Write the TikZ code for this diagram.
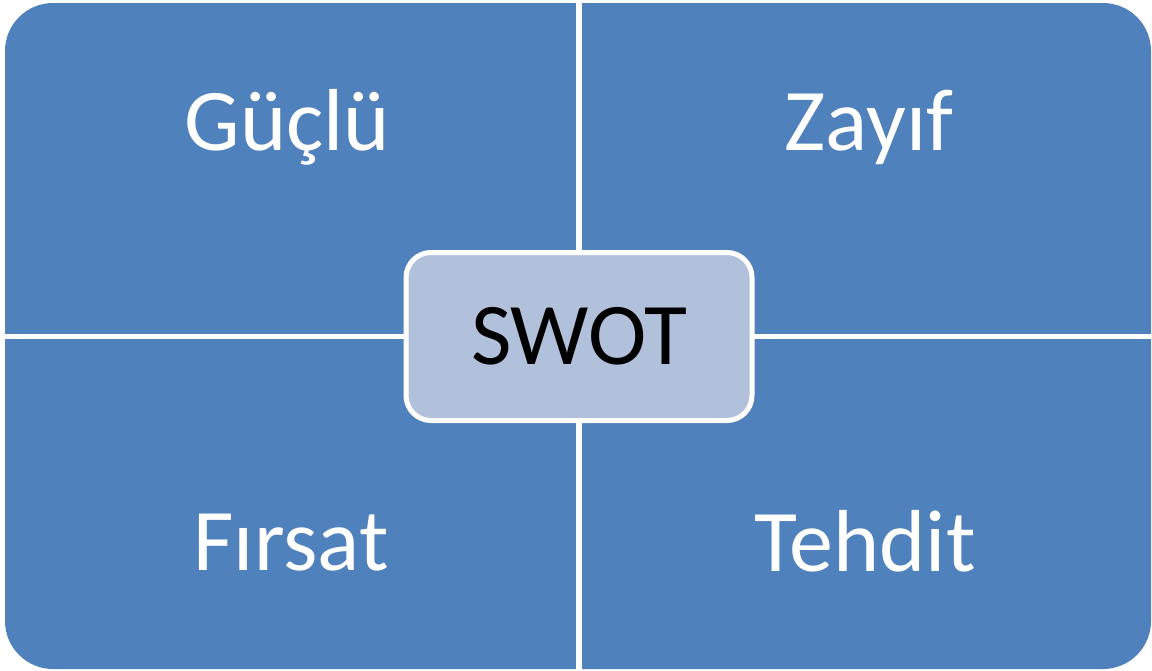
\documentclass[tikz,border=0pt]{standalone}
\usepackage{fontspec}
\setmainfont{Carlito}
\definecolor{quadblue}{HTML}{4F81BD}
\definecolor{swotfill}{HTML}{B2C1DB}

\begin{document}
\begin{tikzpicture}[x=1pt,y=-1pt,
  quadtext/.style={text=white,inner sep=0pt,anchor=base,
    font=\fontsize{88}{88}\selectfont},
  swotbox/.style={draw=white,line width=5pt,fill=swotfill,rounded corners=25pt,
    minimum width=346pt,minimum height=168pt,text=black,
    font=\fontsize{88}{88}\selectfont}]
\useasboundingbox (0,0) rectangle (1152,670);
% quadrants
\fill[quadblue,rounded corners=48pt] (5,3) rectangle (1151,669);
\draw[white,line width=6pt] (579,0) -- (579,670);
\draw[white,line width=5pt] (0,336.5) -- (1152,336.5);
% labels
\node[quadtext] (s) at (287.5,150) {Güçlü};
\node[quadtext] (w) at (869,150) {Zayıf};
\node[quadtext] (o) at (291,570) {Fırsat};
\node[quadtext] (t) at (865,571) {Tehdit};
% center
\node[swotbox] (swot) at (579,336.5) {SWOT};
\end{tikzpicture}
\end{document}
